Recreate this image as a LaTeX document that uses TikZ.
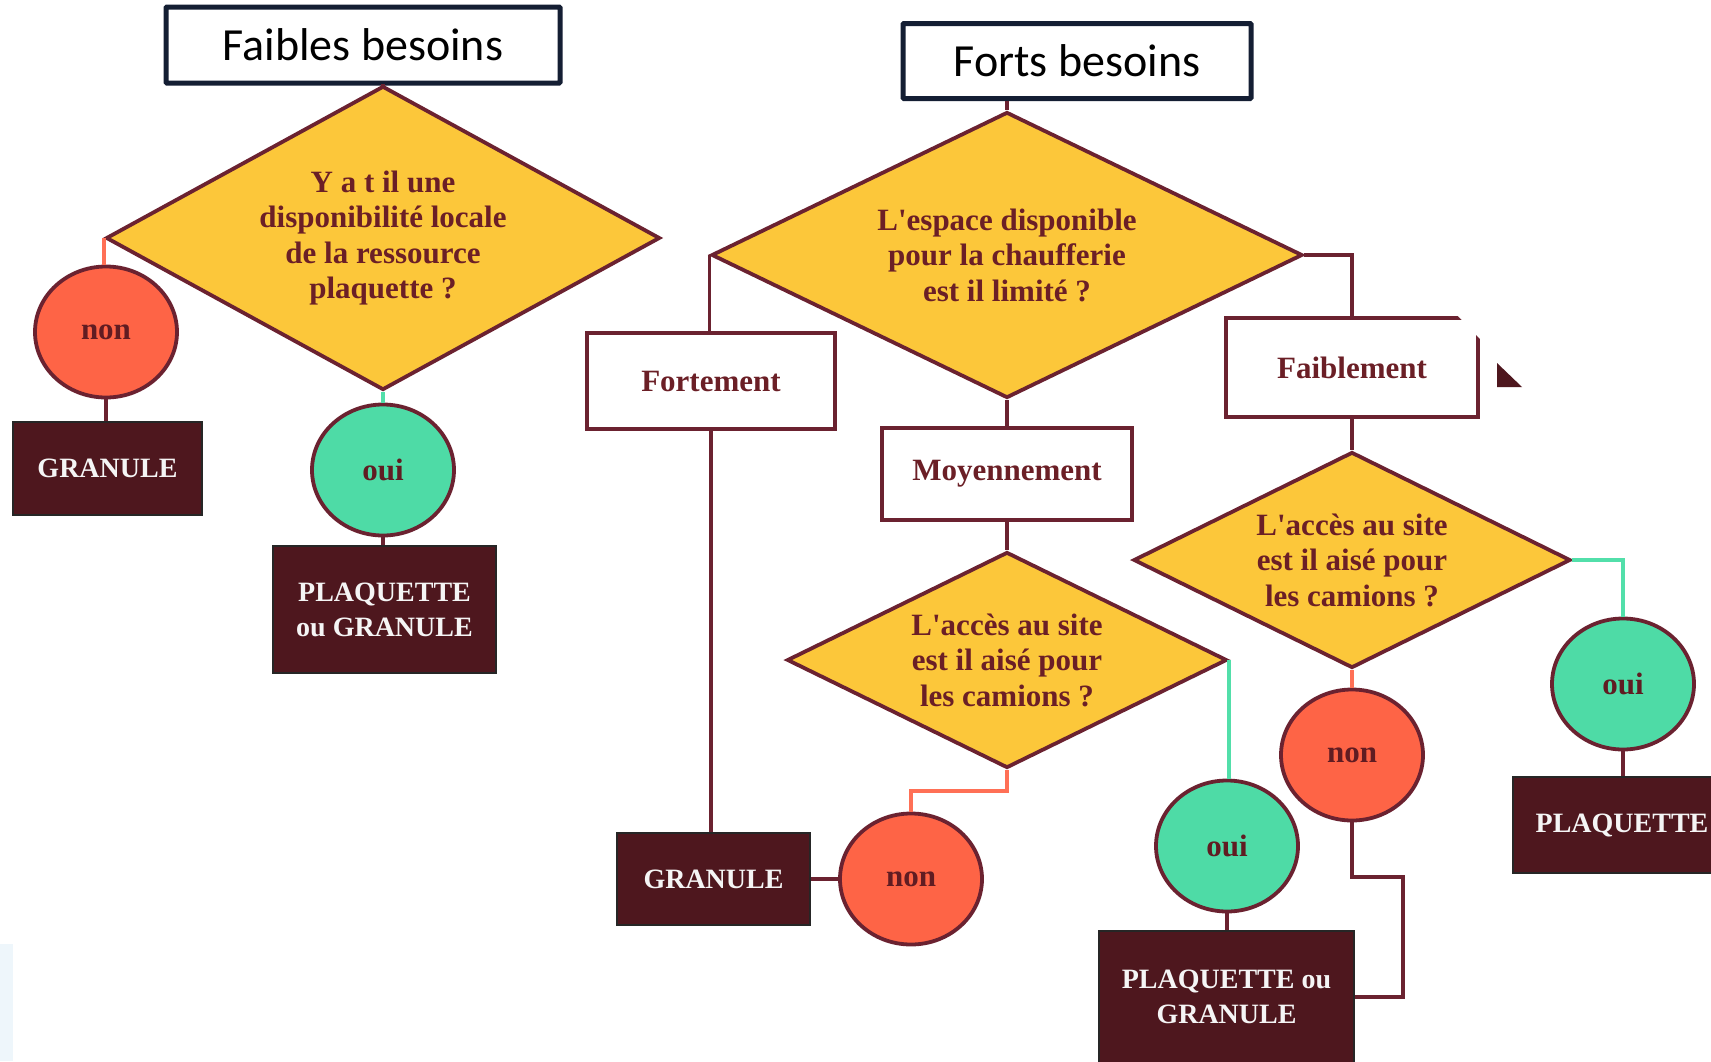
\documentclass[tikz,border=0pt]{standalone}
\usepackage{fontspec}
\setmainfont{Liberation Serif}
\newfontfamily\hdrfont{Carlito}
\usetikzlibrary{shapes.geometric}
\definecolor{navyb}{HTML}{141E33}
\definecolor{maroonl}{HTML}{6B2230}
\definecolor{yellowc}{HTML}{FCC73A}
\definecolor{orangec}{HTML}{FE6446}
\definecolor{orangel}{HTML}{FF7056}
\definecolor{greenc}{HTML}{4EDBA6}
\definecolor{greenl}{HTML}{52DFAA}
\definecolor{darkbox}{HTML}{4E171E}
\definecolor{txtm}{HTML}{6B1F26}
\definecolor{lightb}{HTML}{EEF6FB}
\tikzset{
  hdr/.style={draw=navyb, line width=5pt, fill=white, inner sep=0pt, rounded corners=1pt,
    font=\hdrfont\fontsize{46}{50}\selectfont},
  dia/.style={diamond, draw=maroonl, line width=3.8pt, fill=yellowc, inner sep=0pt, aspect=2,
    text=txtm, align=center, font=\bfseries\fontsize{31}{35.5}\selectfont},
  circ/.style={ellipse, draw=maroonl, line width=3.8pt, inner sep=0pt, minimum width=142, minimum height=131,
    text=txtm!90!black, font=\bfseries\fontsize{31}{35}\selectfont},
  lbl/.style={rectangle, draw=maroonl, line width=4pt, fill=white, inner sep=0pt,
    text=txtm, font=\bfseries\fontsize{31}{35}\selectfont},
  res/.style={rectangle, draw=black!85, line width=2.2pt, fill=darkbox, inner sep=0pt, align=center,
    text=white!96!black, font=\bfseries\fontsize{28}{35}\selectfont},
  lnk/.style={draw=maroonl, line width=3.6pt},
  lnko/.style={draw=orangel, line width=3.6pt},
  lnkg/.style={draw=greenl, line width=3.6pt}
}
\begin{document}
\begin{tikzpicture}[x=1pt,y=-1pt]
\useasboundingbox (0,0) rectangle (1711,1061);
\clip (0,0) rectangle (1711,1061);
\fill[white] (0,0) rectangle (1711,1061);
\fill[lightb] (0,944) rectangle (13,1061);

% headers
\node[hdr, minimum width=394, minimum height=76] (fb) at (363,45) {Faibles besoins};
\node[hdr, minimum width=348, minimum height=75] (fo) at (1077,61) {Forts besoins};

% decisions
\node[dia, minimum width=554, minimum height=304, aspect=1.8] (d1) at (383,238)
  {Y a t il une\\disponibilité locale\\de la ressource\\plaquette ?};
\node[dia, minimum width=591, minimum height=286] (d2) at (1007,255)
  {L\textquotesingle espace disponible\\pour la chaufferie\\est il limité ?};
\node[dia, minimum width=440, minimum height=216] (d3) at (1007,660)
  {L\textquotesingle accès au site\\est il aisé pour\\les camions ?};
\node[dia, minimum width=437, minimum height=216] (d4) at (1352,560)
  {L\textquotesingle accès au site\\est il aisé pour\\les camions ?};

% label boxes
\node[lbl, minimum width=248, minimum height=96] (fort) at (711,381) {Fortement};
\node[lbl, minimum width=250, minimum height=92] (moy) at (1007,474) {Moyennement};
\node[lbl, minimum width=252, minimum height=99] (faib) at (1352,367.5) {Faiblement};
\fill[white] (1455,313) -- (1483,313) -- (1483,342) -- cycle;
\fill[darkbox] (1497,363) -- (1497,387) -- (1522,387) -- cycle;

% circles
\node[circ, fill=orangec] (n1) at (106,332) {non};
\node[circ, fill=greenc] (o1) at (383,470) {oui};
\node[circ, fill=orangec] (n2) at (911,879) {non};
\node[circ, fill=greenc] (o2) at (1227,846) {oui};
\node[circ, fill=orangec] (n3) at (1352,755) {non};
\node[circ, fill=greenc] (o3) at (1623,684) {oui};

% results
\node[res, minimum width=189, minimum height=93] (g1) at (107.5,468.5) {GRANULE};
\node[res, minimum width=223, minimum height=127] (pg1) at (384.5,609.5) {PLAQUETTE\\ou GRANULE};
\node[res, minimum width=193, minimum height=92] (g2) at (713.5,879) {GRANULE};
\node[res, minimum width=255, minimum height=132] (pg2) at (1226.5,997) {PLAQUETTE ou\\GRANULE};
\node[res, minimum width=218, minimum height=96] (p3) at (1622,825) {PLAQUETTE};

\coordinate (k1) at (1403,877);

% connectors
\draw[lnk] (d1.north) -- (d1.north |- fb.south);
\draw[lnko] (d1.west) -- (d1.west |- n1.north);
\draw[lnk] (n1.south) -- (n1.south |- g1.north);
\draw[lnkg] (d1.south) -- (o1.north);
\draw[lnk] (o1.south) -- (o1.south |- pg1.north);
\draw[lnk] (d2.north) -- (d2.north |- fo.south);
\draw[lnk] (d2.west) -- (d2.west |- fort.north);
\draw[lnk] (d2.south) -- (d2.south |- moy.north);
\draw[lnk] (d2.east) -| (faib.north);
\draw[lnk] (moy.south) -- (d3.north);
\draw[lnk] (faib.south) -- (d4.north);
\draw[lnk] (fort.south) -- (fort.south |- g2.north);
\draw[lnk] (n2.west) -- (g2.east);
\draw[lnko] (d3.south) -- ++(0,21) -| (n2.north);
\draw[lnkg] (d3.east) -- (d3.east |- o2.north);
\draw[lnk] (o2.south) -- (o2.south |- pg2.north);
\draw[lnko] (d4.south) -- (n3.north);
\draw[lnk] (n3.south) |- (k1) |- (pg2.east);
\draw[lnkg] (d4.east) -| (o3.north);
\draw[lnk] (o3.south) -- (o3.south |- p3.north);
\end{tikzpicture}
\end{document}
